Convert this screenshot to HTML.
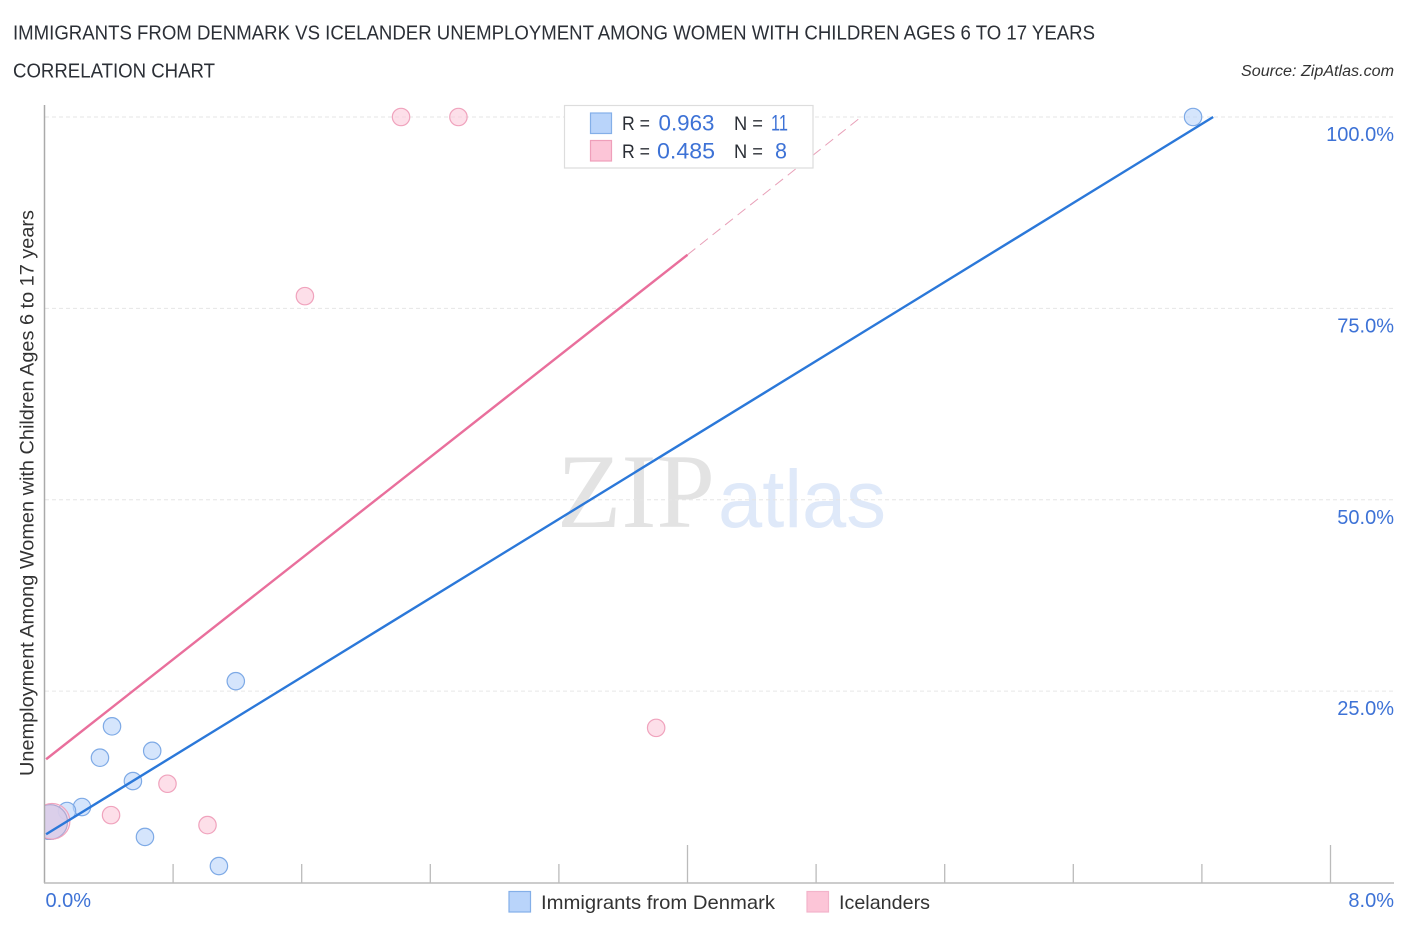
<!DOCTYPE html>
<html lang="en">
<head>
<meta charset="utf-8">
<title>Immigrants from Denmark vs Icelander Unemployment Chart</title>
<style>
html,body{margin:0;padding:0;background:#fff;width:1406px;height:930px;overflow:hidden}
svg{display:block;font-family:"Liberation Sans",sans-serif}
</style>
</head>
<body>
<svg id="chart" xmlns="http://www.w3.org/2000/svg" width="1406" height="930" viewBox="0 0 1406 930">
  <text x="13" y="39.5" font-size="20" fill="#2b2f36" textLength="1082" lengthAdjust="spacingAndGlyphs">IMMIGRANTS FROM DENMARK VS ICELANDER UNEMPLOYMENT AMONG WOMEN WITH CHILDREN AGES 6 TO 17 YEARS</text>
  <text x="13" y="77.5" font-size="20" fill="#2b2f36" textLength="202" lengthAdjust="spacingAndGlyphs">CORRELATION CHART</text>
  <text x="1241" y="76" font-size="15.5" font-style="italic" fill="#333" textLength="153" lengthAdjust="spacingAndGlyphs">Source: ZipAtlas.com</text>

  <g id="watermark">
    <text x="557" y="527" font-family="'Liberation Serif',serif" font-size="106" fill="#e3e3e3" textLength="158" lengthAdjust="spacingAndGlyphs">ZIP</text>
    <text x="718" y="527" font-size="82" fill="#dfe9f9" textLength="168" lengthAdjust="spacingAndGlyphs">atlas</text>
  </g>

  <g id="grid"></g>
  <g id="ticks"></g>

  <g id="marks"></g>
  <rect x="0" y="100" width="44.5" height="790" fill="#fff"/>
  <line x1="44.5" y1="105" x2="44.5" y2="883" stroke="#aaa" stroke-width="1.5"/>
  <line x1="44" y1="883" x2="1394" y2="883" stroke="#bbb" stroke-width="1.5"/>
  <g id="tick-labels"></g>

  <text transform="translate(33.5 776) rotate(-90)" font-size="19" fill="#333" textLength="566" lengthAdjust="spacingAndGlyphs">Unemployment Among Women with Children Ages 6 to 17 years</text>

  <g>
    <rect x="564.5" y="105.5" width="248.5" height="62.5" fill="#fff" stroke="#ddd" stroke-width="1.2"/>
    <rect x="590.5" y="113" width="21" height="20.5" fill="#b9d4fa" stroke="#84afe8" stroke-width="1.2"/>
    <rect x="590.5" y="140.5" width="21" height="20.5" fill="#fcc5d7" stroke="#ef9fba" stroke-width="1.2"/>
    <text x="622" y="130" font-size="19" fill="#2b2f36" textLength="28" lengthAdjust="spacingAndGlyphs">R =</text>
    <text x="658.5" y="130.5" font-size="22" fill="#3d72d6" textLength="56" lengthAdjust="spacingAndGlyphs">0.963</text>
    <text x="734" y="130" font-size="19" fill="#2b2f36" textLength="29" lengthAdjust="spacingAndGlyphs">N =</text>
    <text x="771" y="130.5" font-size="22" fill="#3d72d6" textLength="17" lengthAdjust="spacingAndGlyphs">11</text>
    <text x="622" y="158" font-size="19" fill="#2b2f36" textLength="28" lengthAdjust="spacingAndGlyphs">R =</text>
    <text x="657" y="158.5" font-size="22" fill="#3d72d6" textLength="58" lengthAdjust="spacingAndGlyphs">0.485</text>
    <text x="734" y="158" font-size="19" fill="#2b2f36" textLength="29" lengthAdjust="spacingAndGlyphs">N =</text>
    <text x="775" y="158.5" font-size="22" fill="#3d72d6" textLength="12" lengthAdjust="spacingAndGlyphs">8</text>
  </g>

  <g>
    <rect x="509" y="891.5" width="21.5" height="20.5" fill="#b9d4fa" stroke="#84afe8" stroke-width="1.2"/>
    <text x="541" y="909" font-size="19.5" fill="#333" textLength="234" lengthAdjust="spacingAndGlyphs">Immigrants from Denmark</text>
    <rect x="807" y="891.5" width="21.5" height="20.5" fill="#fcc5d7" stroke="#f3b4ca" stroke-width="1.2"/>
    <text x="839" y="909" font-size="19.5" fill="#333" textLength="91" lengthAdjust="spacingAndGlyphs">Icelanders</text>
  </g>
</svg>
<script>
const yTickValues = [100, 75, 50, 25];
const yTickLabels = ["100.0%", "75.0%", "50.0%", "25.0%"];
const xTickValues = [0.8, 1.6, 2.4, 3.2, 4.0, 4.8, 5.6, 6.4, 7.2, 8.0];
const xMajorTicks = [4.0, 8.0];
const xEndValues = [0, 8];
const xEndLabels = ["0.0%", "8.0%"];

const denmarkX = [7.145, 1.19, 0.42, 0.67, 0.345, 0.55, 0.233, 0.14, 0.035, 0.625, 1.085];
const denmarkY = [100, 26.3, 20.4, 17.2, 16.3, 13.25, 9.86, 9.34, 7.9, 5.95, 2.15];
const denmarkWeight = [1, 1, 1, 1, 1, 1, 1, 1, 4, 1, 1];

const icelandX = [2.218, 2.575, 1.62, 3.805, 0.765, 0.414, 1.014, 0.047];
const icelandY = [100, 100, 76.6, 20.2, 12.9, 8.8, 7.5, 8.0];
const icelandWeight = [1, 1, 1, 1, 1, 1, 1, 4.2];

const denmarkTrendX = [0.01, 7.27];
const denmarkTrendY = [6.3, 100];
const icelandTrendX = [0.01, 4.0];
const icelandTrendY = [16.1, 82];
const icelandDashX = [4.0, 5.08];
const icelandDashY = [82, 100];

function xScale(v) { return 44.5 + v * 160.75; }
function yScale(v) { return 882.5 - v * 7.655; }
function rScale(w) { return 8.7 * Math.sqrt(w); }

const NS = "http://www.w3.org/2000/svg";
function make(tag, parent, attrs) {
  const el = document.createElementNS(NS, tag);
  for (const k in attrs) el.setAttribute(k, attrs[k]);
  parent.appendChild(el);
  return el;
}

const grid = document.getElementById("grid");
const ticks = document.getElementById("ticks");
const marks = document.getElementById("marks");
const tickLabels = document.getElementById("tick-labels");

yTickValues.forEach(function (v, i) {
  const line = make("line", grid, { x1: 45, x2: 1394, y1: yScale(v), y2: yScale(v), stroke: "#e6e6e6", "stroke-width": 1, "stroke-dasharray": "4 3" });
  
  
  const label = make("text", tickLabels, { x: 1394, y: yScale(v) + 24, "text-anchor": "end", "font-size": 20, fill: "#3d72d6" });
  label.textContent = yTickLabels[i];
  
  
});

xTickValues.forEach(function (v) {
  const top = xMajorTicks.indexOf(v) >= 0 ? 845 : 864;
  const tick = make("line", ticks, { x1: xScale(v), x2: xScale(v), y1: top, y2: 883, stroke: "#bbb", "stroke-width": 1.3 });
  
  
});

xEndValues.forEach(function (v, i) {
  const label = make("text", tickLabels, { x: i === 0 ? xScale(v) + 1 : 1394, y: 907, "text-anchor": i === 0 ? "start" : "end", "font-size": 20, fill: "#3d72d6" });
  label.textContent = xEndLabels[i];
  
  
});

denmarkX.forEach(function (v, i) {
  const big = denmarkWeight[i] > 1;
  const dot = make("circle", marks, { cx: xScale(v), cy: yScale(denmarkY[i]), r: rScale(denmarkWeight[i]), fill: "#b9d4fa", "fill-opacity": big ? 0.9 : 0.6, stroke: big ? "#6f93d0" : "#7eaae6", "stroke-width": 1.2 });
  
  
});

icelandX.forEach(function (v, i) {
  const big = icelandWeight[i] > 1;
  const dot = make("circle", marks, { cx: xScale(v), cy: yScale(icelandY[i]), r: rScale(icelandWeight[i]), fill: "#fcc5d7", "fill-opacity": big ? 0.45 : 0.55, stroke: "#f0a3bd", "stroke-width": 1.2 });
  
  
});

const dashLine = make("line", marks, { x1: xScale(icelandDashX[0]), y1: yScale(icelandDashY[0]), x2: xScale(icelandDashX[1]), y2: yScale(icelandDashY[1]), stroke: "#e8a0b8", "stroke-width": 1, "stroke-dasharray": "10 6" });



const icelandLine = make("line", marks, { x1: xScale(icelandTrendX[0]), y1: yScale(icelandTrendY[0]), x2: xScale(icelandTrendX[1]), y2: yScale(icelandTrendY[1]), stroke: "#e96f9c", "stroke-width": 2.4 });



const denmarkLine = make("line", marks, { x1: xScale(denmarkTrendX[0]), y1: yScale(denmarkTrendY[0]), x2: xScale(denmarkTrendX[1]), y2: yScale(denmarkTrendY[1]), stroke: "#2b78d9", "stroke-width": 2.4 });


</script>
</body>
</html>
